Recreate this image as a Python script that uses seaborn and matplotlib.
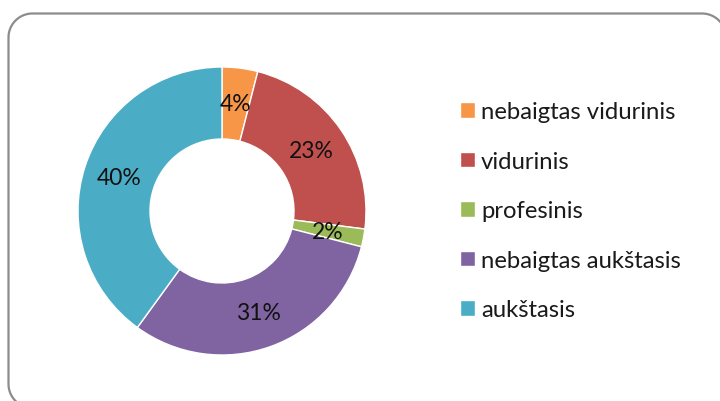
import matplotlib
matplotlib.use("Agg")
import matplotlib.pyplot as plt
import seaborn as sns
import numpy as np

categories = ["nebaigtas vidurinis", "vidurinis", "profesinis", "nebaigtas aukštasis", "aukštasis"]
values = [4, 23, 2, 31, 40]
colors = ["#F79646", "#C0504D", "#9BBB59", "#8064A2", "#4BACC6"]

sns.set_theme(style="white")
plt.rcParams["font.family"] = ["Lato", "DejaVu Sans"]

W, H = 720, 402
fig = plt.figure(figsize=(W / 100, H / 100), dpi=100)
fig.patch.set_facecolor("white")

# overlay axes in pixel units for the rounded border (y downwards)
bax = fig.add_axes([0, 0, 1, 1])
bax.set_xlim(0, W)
bax.set_ylim(H, 0)
bax.axis("off")
R = 24
left, top, bottom, right = 8.5, 14.5, 409, 726
def arc(cx, cy, a0, a1, n=40):
    a = np.radians(np.linspace(a0, a1, n))
    return cx + R * np.cos(a), cy + R * np.sin(a)
xs, ys = [], []
x, y = arc(left + R, bottom - R, 180, 130); xs += list(x); ys += list(y)  # bottom-left (y down)
xs.reverse(); ys.reverse()
x, y = arc(left + R, top + R, 180, 270); xs += list(x); ys += list(y)
x, y = arc(right - R, top + R, 270, 340); xs += list(x); ys += list(y)
bax.plot(xs, ys, color="#8c8c8c", linewidth=1.6, solid_capstyle="butt")

fig.canvas.draw()
renderer = fig.canvas.get_renderer()

def text_width(s, fs):
    t = fig.text(0, 0, s, fontsize=fs)
    w = t.get_window_extent(renderer).width
    t.remove()
    return w

leg_fs = 15 * 195 / text_width("nebaigtas vidurinis", 15)
lab_fs = 15 * 45 / text_width("23%", 15)

cx, cy, r = 222, 212, 144
ax = fig.add_axes([(cx - r) / W, (H - cy - r) / H, 2 * r / W, 2 * r / H])
wedges, texts = ax.pie(values, colors=colors, startangle=90, counterclock=False,
                       radius=1, wedgeprops=dict(width=0.5, edgecolor="white", linewidth=1))
ax.set_xlim(-1, 1)
ax.set_ylim(-1, 1)
ax.set_aspect("equal")
ax.axis("off")

total = sum(values)
cum = 0
for v in values:
    mid = 90 - (cum + v / 2) / total * 360
    cum += v
    rr = 0.75
    ax.text(rr * np.cos(np.radians(mid)), rr * np.sin(np.radians(mid)), f"{v}%",
            ha="center", va="center", fontsize=lab_fs, color="#111111")

fs_px = leg_fs * 100 / 72
hl = 15 / fs_px

def make_legend(spacing, anchor_x, anchor_y):
    lg = fig.legend(wedges, categories, loc="upper left",
                    bbox_to_anchor=(anchor_x / W, 1 - anchor_y / H), frameon=False,
                    fontsize=leg_fs, handlelength=hl, handleheight=hl,
                    handletextpad=6 / fs_px, labelspacing=spacing,
                    borderpad=0, borderaxespad=0)
    for t in lg.get_texts():
        t.set_color("#1a1a1a")
    return lg

leg = make_legend(1.0, 460, 100)
fig.canvas.draw()
ext = [t.get_window_extent(renderer) for t in leg.get_texts()]
step = ext[0].y0 - ext[1].y0
row_h = step - 1.0 * fs_px
spacing = (49.5 - row_h) / fs_px
leg.remove()

leg = make_legend(spacing, 460, 100)
fig.canvas.draw()
ext = [t.get_window_extent(renderer) for t in leg.get_texts()]
first_center_top = H - (ext[0].y0 + ext[0].y1) / 2
dx = 481 - ext[0].x0
dy = 113 - first_center_top
leg.remove()
leg = make_legend(spacing, 460 + dx, 100 + dy)

fig.savefig("out.png", dpi=100, facecolor="white")
